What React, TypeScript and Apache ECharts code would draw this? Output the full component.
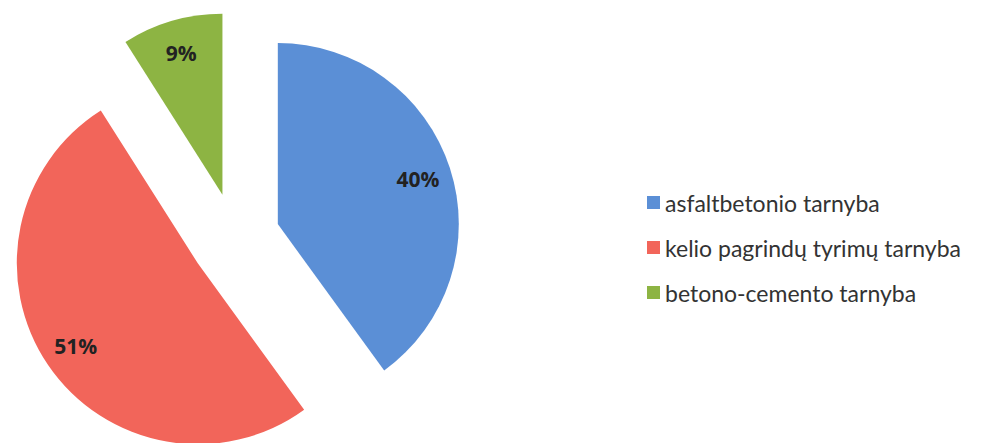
import React, { useEffect, useRef } from "react";
import * as echarts from "echarts";

const categories = ["asfaltbetonio tarnyba", "kelio pagrindų tyrimų tarnyba", "betono-cemento tarnyba"];
const values = [40, 51, 9];
const colors = ["#5B8FD6", "#F2655A", "#8DB443"];

export default function App() {
  const ref = useRef<HTMLDivElement>(null);
  useEffect(() => {
    if (!ref.current) return;
    const chart = echarts.init(ref.current, undefined, { renderer: "svg" });
    const data = categories.map((name, i) => ({
      name,
      value: values[i],
      selected: true,
      itemStyle: { color: colors[i] },
    }));
    const labelData = categories.map((name, i) => ({
      name,
      value: values[i],
      selected: true,
    }));
    chart.setOption({
      animation: false,
      backgroundColor: "#ffffff",
      legend: {
        orient: "vertical",
        left: 642,
        top: 186,
        icon: "rect",
        itemWidth: 13,
        itemHeight: 13,
        itemGap: 22,
        textStyle: { fontFamily: "Lato", fontSize: 23, color: "#333" },
        data: categories,
        selectedMode: false,
      },
      series: [
        {
          type: "pie",
          center: [235, 238],
          radius: [0, 181],
          startAngle: 90,
          clockwise: true,
          selectedMode: "multiple",
          selectedOffset: 45,
          label: { show: false },
          labelLine: { show: false },
          emphasis: { disabled: true },
          data,
        },
        {
          type: "pie",
          center: [235, 238],
          radius: [108, 181],
          startAngle: 90,
          clockwise: true,
          selectedMode: "multiple",
          selectedOffset: 45,
          silent: true,
          itemStyle: { color: "rgba(0,0,0,0)" },
          label: {
            show: true,
            position: "inside",
            formatter: "{d}%",
            fontFamily: "Open Sans",
            fontWeight: "bold",
            fontSize: 21,
            color: "#222",
          },
          labelLine: { show: false },
          emphasis: { disabled: true },
          data: labelData,
        },
      ],
    });
    return () => chart.dispose();
  }, []);
  return (
    <div
      ref={ref}
      style={{ position: "fixed", left: 0, top: 0, width: 994, height: 443, background: "#fff" }}
    />
  );
}
